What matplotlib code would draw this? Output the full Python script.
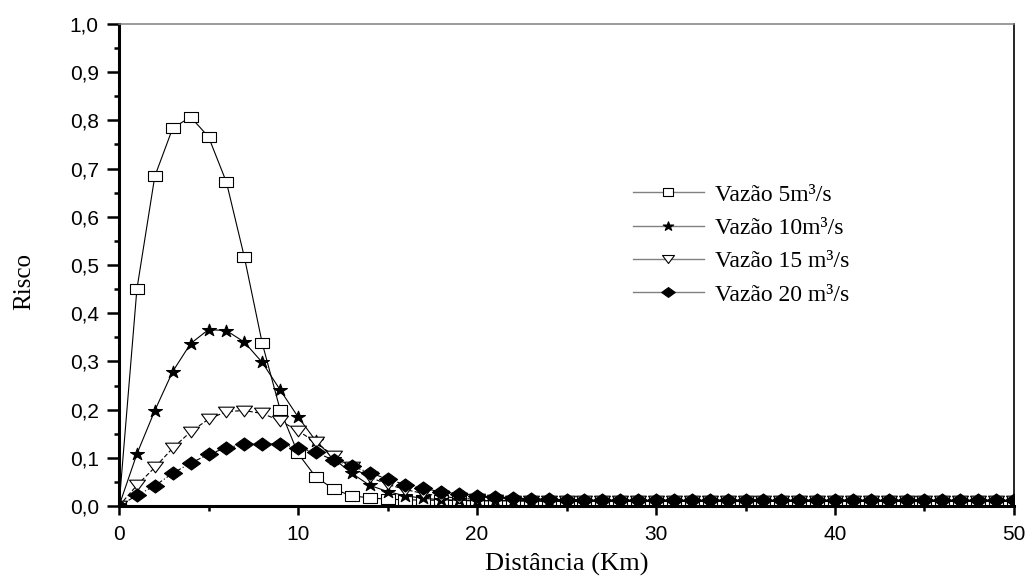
import matplotlib
matplotlib.use('Agg')
import matplotlib.pyplot as plt
from matplotlib.path import Path
from matplotlib.lines import Line2D
import numpy as np

# distance (km) and risk for each flow rate
dist = list(range(0, 51))

risco_5 = [0.0, 0.45, 0.684, 0.784, 0.807, 0.766, 0.672, 0.517, 0.338, 0.20,
           0.109, 0.06, 0.035, 0.021, 0.017, 0.014, 0.013, 0.012, 0.012, 0.011,
           0.011, 0.011, 0.011, 0.010, 0.010, 0.010, 0.010, 0.010, 0.010, 0.010,
           0.010, 0.010, 0.010, 0.010, 0.010, 0.010, 0.010, 0.010, 0.010, 0.010,
           0.010, 0.010, 0.010, 0.010, 0.010, 0.010, 0.010, 0.010, 0.010, 0.010,
           0.010]
risco_10 = [0.0, 0.108, 0.198, 0.279, 0.337, 0.366, 0.364, 0.340, 0.298, 0.241,
            0.185, 0.135, 0.098, 0.068, 0.043, 0.030, 0.021, 0.016, 0.013, 0.012,
            0.011, 0.011, 0.011, 0.011, 0.010, 0.010, 0.010, 0.010, 0.010, 0.010,
            0.010, 0.010, 0.010, 0.010, 0.010, 0.010, 0.010, 0.010, 0.010, 0.010,
            0.010, 0.010, 0.010, 0.010, 0.010, 0.010, 0.010, 0.010, 0.010, 0.010,
            0.010]
risco_15 = [0.0, 0.043, 0.080, 0.120, 0.154, 0.180, 0.196, 0.198, 0.192, 0.177,
            0.156, 0.132, 0.104, 0.080, 0.060, 0.045, 0.034, 0.026, 0.020, 0.016,
            0.014, 0.012, 0.011, 0.011, 0.011, 0.011, 0.010, 0.010, 0.010, 0.010,
            0.010, 0.010, 0.010, 0.010, 0.010, 0.010, 0.010, 0.010, 0.010, 0.010,
            0.010, 0.010, 0.010, 0.010, 0.010, 0.010, 0.010, 0.010, 0.010, 0.010,
            0.010]
risco_20 = [0.0, 0.022, 0.042, 0.068, 0.089, 0.107, 0.121, 0.128, 0.129, 0.128,
            0.121, 0.111, 0.095, 0.083, 0.069, 0.056, 0.044, 0.037, 0.029, 0.025,
            0.021, 0.018, 0.016, 0.015, 0.014, 0.013, 0.012, 0.012, 0.012, 0.012,
            0.012, 0.012, 0.012, 0.012, 0.012, 0.012, 0.012, 0.012, 0.012, 0.012,
            0.012, 0.012, 0.012, 0.012, 0.012, 0.012, 0.012, 0.012, 0.012, 0.012,
            0.012]

labels = ['Vazão 5m³/s', 'Vazão 10m³/s', 'Vazão 15 m³/s', 'Vazão 20 m³/s']

x_ticks = [0, 10, 20, 30, 40, 50]
y_ticks = [0.0, 0.1, 0.2, 0.3, 0.4, 0.5, 0.6, 0.7, 0.8, 0.9, 1.0]
y_ticklabels = ['0,0', '0,1', '0,2', '0,3', '0,4', '0,5', '0,6', '0,7', '0,8', '0,9', '1,0']

# markers a bit wider than tall, like the original
m_square = Path([(-1.3, -1), (1.3, -1), (1.3, 1), (-1.3, 1), (-1.3, -1)], closed=True)
star = Path.unit_regular_star(5, 0.381966)
m_star = Path(star.vertices * np.array([1.15, 1.0]), star.codes)
m_tri = Path([(-1.5, 1), (1.5, 1), (0, -1), (-1.5, 1)], closed=True)
m_diam = Path([(-1.38, 0), (0, 1), (1.38, 0), (0, -1), (-1.38, 0)], closed=True)

styles = [
    dict(marker=m_square, ms=9.4, mfc='white', ls='-'),
    dict(marker=m_star, ms=10, mfc='black', ls='-'),
    dict(marker=m_tri, ms=11.5, mfc='white', ls=(0, (4, 2))),
    dict(marker=m_diam, ms=13, mfc='black', ls=(0, (5, 2, 1, 2))),
]
series = [risco_5, risco_10, risco_15, risco_20]

fig = plt.figure(figsize=(10.35, 5.79), dpi=100)
ax = fig.add_axes([119 / 1035, 73 / 579, 895 / 1035, 482 / 579])

for ys, st in zip(series, styles):
    ax.plot(dist, ys, color='black', lw=0.8, marker=st['marker'], ms=st['ms'],
            mfc=st['mfc'], mec='black', mew=0.8, ls=st['ls'])

ax.set_xlim(0, 50)
ax.set_ylim(0, 1.0)
ax.set_xticks(x_ticks)
ax.set_xticks(range(5, 50, 10), minor=True)
ax.set_yticks(y_ticks)
ax.set_yticklabels(y_ticklabels)
ax.set_yticks(np.arange(0.05, 1.0, 0.1), minor=True)

for lab in ax.get_xticklabels() + ax.get_yticklabels():
    lab.set_fontfamily('Liberation Sans')
    lab.set_fontsize(15)

ax.tick_params(axis='y', which='major', length=8.5, width=1.8, pad=6)
ax.tick_params(axis='y', which='minor', length=3.8, width=1.8)
ax.tick_params(axis='x', which='major', length=6.5, width=1.8, pad=7)
ax.tick_params(axis='x', which='minor', length=3.5, width=1.8)

ax.spines['left'].set_linewidth(2.2)
ax.spines['bottom'].set_linewidth(2.2)
ax.spines['right'].set_linewidth(1.2)
ax.spines['top'].set_linewidth(1.1)
ax.spines['top'].set_color('#808080')

ax.set_xlabel('Distância (Km)', fontfamily='Liberation Serif', fontsize=19)
ax.xaxis.set_label_coords(0.5, -0.098)
ax.set_ylabel('Risco', fontfamily='Liberation Serif', fontsize=18)
ax.yaxis.set_label_coords(-0.094, 0.465)

handles = []
for st in styles:
    handles.append(Line2D([], [], color='#808080', lw=1.0, marker=st['marker'],
                          ms=st['ms'] * 0.75, mfc=st['mfc'], mec='black', mew=0.8))
ax.legend(handles, labels, loc='upper left', bbox_to_anchor=(0.574, 0.668),
          frameon=False, borderpad=0, borderaxespad=0, handlelength=3.0,
          handletextpad=0.5, labelspacing=0.5,
          prop={'family': 'Liberation Serif', 'size': 17})

fig.savefig('out.png', dpi=100)
